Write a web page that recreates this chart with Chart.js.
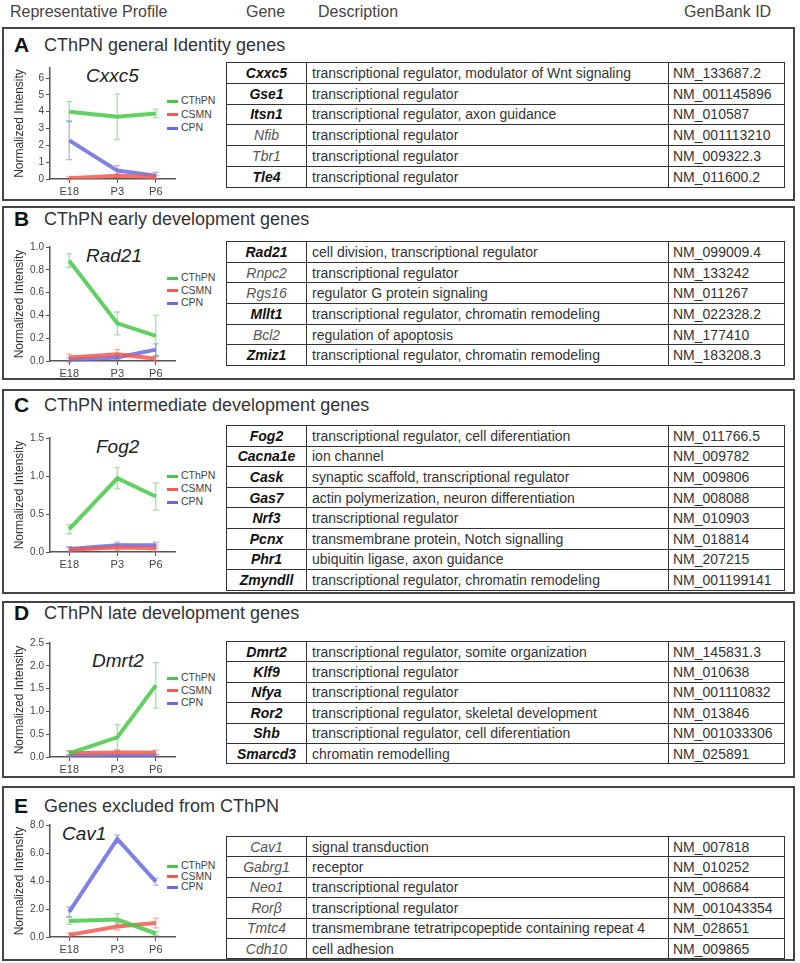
<!DOCTYPE html>
<html>
<head>
<meta charset="utf-8">
<script src="https://cdn.jsdelivr.net/npm/chart.js@4/dist/chart.umd.min.js"></script>
<style>
body { margin: 0; width: 800px; height: 963px; position: relative; overflow: hidden; background: #fff;
       font-family: Arial, "Liberation Sans", sans-serif; color: #333; }
.hdr { position: absolute; top: 3px; font-size: 16px; color: #444; }
.panel { position: absolute; left: 2px; width: 793px; border: 2px solid #444; box-sizing: border-box; }
.letter { position: absolute; font-weight: bold; font-size: 21px; color: #111; }
.ptitle { position: absolute; font-size: 18px; color: #333; }
.gname { position: absolute; font-style: italic; font-size: 19px; color: #222; }
.leg { position: absolute; font-size: 10.5px; color: #444; white-space: nowrap; }
.leg span { display: inline-block; width: 11px; height: 3px; margin-right: 3px; vertical-align: middle; }
canvas { position: absolute; left: 0; }
table { position: absolute; border-collapse: collapse; table-layout: fixed; font-size: 14px; }
td { border: 1.5px solid #333; padding: 0 5px; white-space: nowrap; overflow: hidden; color: #333; }
td.g { text-align: center; font-style: italic; color: #555; }
td.b { font-weight: bold; color: #111; }
td.id { padding-left: 4px; }
</style>
</head>
<body>
<div class="hdr" style="left:10px">Representative Profile</div>
<div class="hdr" style="left:246px">Gene</div>
<div class="hdr" style="left:318px">Description</div>
<div class="hdr" style="left:684px">GenBank ID</div>

<script>
const stages = ['E18', 'P3', 'P6'];
const stageDay = [0, 5, 9];
const seriesNames = ['CThPN', 'CSMN', 'CPN'];
const seriesColors = ['#46c846', '#f05a50', '#6a6ae0'];

// mean and error per series: CThPN, CSMN, CPN
const cxxc5Mean = [[4.0, 3.7, 3.9], [0.05, 0.2, 0.12], [2.3, 0.5, 0.2]];
const cxxc5Err = [[0.6, 1.35, 0.25], [0.1, 0.1, 0.1], [1.15, 0.3, 0.2]];
const cxxc5Ticks = [0, 1, 2, 3, 4, 5, 6];

const rad21Mean = [[0.88, 0.33, 0.22], [0.03, 0.06, 0.02], [0.01, 0.03, 0.1]];
const rad21Err = [[0.06, 0.1, 0.18], [0.03, 0.04, 0.02], [0.02, 0.02, 0.05]];
const rad21Ticks = [0, 0.2, 0.4, 0.6, 0.8, 1.0];

const fog2Mean = [[0.3, 0.97, 0.73], [0.03, 0.06, 0.05], [0.04, 0.09, 0.09]];
const fog2Err = [[0.06, 0.14, 0.18], [0.03, 0.04, 0.04], [0.03, 0.04, 0.04]];
const fog2Ticks = [0, 0.5, 1.0, 1.5];

const dmrt2Mean = [[0.08, 0.43, 1.57], [0.08, 0.1, 0.1], [0.03, 0.03, 0.03]];
const dmrt2Err = [[0.06, 0.28, 0.5], [0.05, 0.05, 0.05], [0.02, 0.02, 0.02]];
const dmrt2Ticks = [0, 0.5, 1.0, 1.5, 2.0, 2.5];

const cav1Mean = [[1.15, 1.25, 0.25], [0.15, 0.75, 1.0], [1.8, 7.0, 3.95]];
const cav1Err = [[0.25, 0.4, 0.15], [0.15, 0.25, 0.35], [0.35, 0.3, 0.25]];
const cav1Ticks = [0, 2, 4, 6, 8];

const genesA = ['Cxxc5', 'Gse1', 'Itsn1', 'Nfib', 'Tbr1', 'Tle4'];
const descA = ['transcriptional regulator, modulator of Wnt signaling', 'transcriptional regulator',
    'transcriptional regulator, axon guidance', 'transcriptional regulator', 'transcriptional regulator',
    'transcriptional regulator'];
const idsA = ['NM_133687.2', 'NM_001145896', 'NM_010587', 'NM_001113210', 'NM_009322.3', 'NM_011600.2'];
const boldA = [1, 1, 1, 0, 0, 1];

const genesB = ['Rad21', 'Rnpc2', 'Rgs16', 'Mllt1', 'Bcl2', 'Zmiz1'];
const descB = ['cell division, transcriptional regulator', 'transcriptional regulator',
    'regulator G protein signaling', 'transcriptional regulator, chromatin remodeling',
    'regulation of apoptosis', 'transcriptional regulator, chromatin remodeling'];
const idsB = ['NM_099009.4', 'NM_133242', 'NM_011267', 'NM_022328.2', 'NM_177410', 'NM_183208.3'];
const boldB = [1, 0, 0, 1, 0, 1];

const genesC = ['Fog2', 'Cacna1e', 'Cask', 'Gas7', 'Nrf3', 'Pcnx', 'Phr1', 'Zmyndll'];
const descC = ['transcriptional regulator, cell diferentiation', 'ion channel',
    'synaptic scaffold, transcriptional regulator', 'actin polymerization, neuron differentiation',
    'transcriptional regulator', 'transmembrane protein, Notch signalling', 'ubiquitin ligase, axon guidance',
    'transcriptional regulator, chromatin remodeling'];
const idsC = ['NM_011766.5', 'NM_009782', 'NM_009806', 'NM_008088', 'NM_010903', 'NM_018814', 'NM_207215', 'NM_001199141'];
const boldC = [1, 1, 1, 1, 1, 1, 1, 1];

const genesD = ['Dmrt2', 'Klf9', 'Nfya', 'Ror2', 'Shb', 'Smarcd3'];
const descD = ['transcriptional regulator, somite organization', 'transcriptional regulator',
    'transcriptional regulator', 'transcriptional regulator, skeletal development',
    'transcriptional regulator, cell diferentiation', 'chromatin remodelling'];
const idsD = ['NM_145831.3', 'NM_010638', 'NM_001110832', 'NM_013846', 'NM_001033306', 'NM_025891'];
const boldD = [1, 1, 1, 1, 1, 1];

const genesE = ['Cav1', 'Gabrg1', 'Neo1', 'Rorβ', 'Tmtc4', 'Cdh10'];
const descE = ['signal transduction', 'receptor', 'transcriptional regulator', 'transcriptional regulator',
    'transmembrane tetratripcopeptide containing repeat 4', 'cell adhesion'];
const idsE = ['NM_007818', 'NM_010252', 'NM_008684', 'NM_001043354', 'NM_028651', 'NM_009865'];
const boldE = [0, 0, 0, 0, 0, 0];

// layout of each panel (page coordinates)
const panels = [
    { letter: 'A', title: 'CThPN general Identity genes', top: 27, bottom: 201, titleY: 33,
      gene: 'Cxxc5', mean: cxxc5Mean, err: cxxc5Err, ticks: cxxc5Ticks, yMax: 6.6, dec: 0,
      plotTop: 68, plotBottom: 179, geneX: 86, geneY: 65, legY: 100, legGap: 13.5,
      tableTop: 62, rowH: 20.8, genes: genesA, desc: descA, ids: idsA, bold: boldA },
    { letter: 'B', title: 'CThPN early development genes', top: 206, bottom: 380, titleY: 207,
      gene: 'Rad21', mean: rad21Mean, err: rad21Err, ticks: rad21Ticks, yMax: 1.0, dec: 1,
      plotTop: 247, plotBottom: 361, geneX: 86, geneY: 245, legY: 277, legGap: 12.5,
      tableTop: 241, rowH: 20.7, genes: genesB, desc: descB, ids: idsB, bold: boldB },
    { letter: 'C', title: 'CThPN intermediate development genes', top: 389, bottom: 594, titleY: 393,
      gene: 'Fog2', mean: fog2Mean, err: fog2Err, ticks: fog2Ticks, yMax: 1.5, dec: 1,
      plotTop: 438, plotBottom: 552, geneX: 96, geneY: 436, legY: 475, legGap: 13,
      tableTop: 425, rowH: 20.6, genes: genesC, desc: descC, ids: idsC, bold: boldC },
    { letter: 'D', title: 'CThPN late development genes', top: 601, bottom: 778, titleY: 601,
      gene: 'Dmrt2', mean: dmrt2Mean, err: dmrt2Err, ticks: dmrt2Ticks, yMax: 2.5, dec: 1,
      plotTop: 643, plotBottom: 757, geneX: 92, geneY: 650, legY: 677, legGap: 12.5,
      tableTop: 641, rowH: 20.4, genes: genesD, desc: descD, ids: idsD, bold: boldD },
    { letter: 'E', title: 'Genes excluded from CThPN', top: 786, bottom: 961, titleY: 794,
      gene: 'Cav1', mean: cav1Mean, err: cav1Err, ticks: cav1Ticks, yMax: 8.0, dec: 1,
      plotTop: 825, plotBottom: 937, geneX: 62, geneY: 823, legY: 865, legGap: 10.5,
      tableTop: 836, rowH: 20.4, genes: genesE, desc: descE, ids: idsE, bold: boldE },
];

const errorBars = {
    id: 'errorBars',
    beforeDatasetsDraw(chart) {
        const ctx = chart.ctx
        const ys = chart.scales.y
        chart.data.datasets.forEach((ds, i) => {
            const meta = chart.getDatasetMeta(i)
            ctx.save()
            ctx.strokeStyle = ds.errColor
            ctx.lineWidth = 1.3
            meta.data.forEach((pt, j) => {
                const v = ds.data[j].y
                const e = ds.err[j]
                const y1 = ys.getPixelForValue(v + e)
                const y2 = ys.getPixelForValue(v - e)
                ctx.beginPath()
                ctx.moveTo(pt.x, y1); ctx.lineTo(pt.x, y2)
                ctx.moveTo(pt.x - 3, y1); ctx.lineTo(pt.x + 3, y1)
                ctx.moveTo(pt.x - 3, y2); ctx.lineTo(pt.x + 3, y2)
                ctx.stroke()
            })
            ctx.restore()
        })
    }
}

const withAlpha = (hex, a) => {
    const n = parseInt(hex.slice(1), 16)
    return 'rgba(' + (n >> 16) + ',' + ((n >> 8) & 255) + ',' + (n & 255) + ',' + a + ')'
}

const addDiv = (cls, text, style) => {
    const d = document.createElement('div')
    d.className = cls
    d.textContent = text
    d.style.cssText = style
    document.body.appendChild(d)
    return d
}

Chart.defaults.font.family = 'Arial, "Liberation Sans", sans-serif'
Chart.defaults.color = '#444'

panels.forEach(p => {
    addDiv('panel', '', 'top:' + p.top + 'px;height:' + (p.bottom - p.top) + 'px')
    addDiv('letter', p.letter, 'left:14px;top:' + p.titleY + 'px')
    addDiv('ptitle', p.title, 'left:44px;top:' + (p.titleY + 2) + 'px')
    addDiv('gname', p.gene, 'left:' + p.geneX + 'px;top:' + p.geneY + 'px')

    // legend
    seriesNames.forEach((name, k) => {
        const d = addDiv('leg', name, 'left:167px;top:' + (p.legY + k * p.legGap - 6) + 'px')
        const sw = document.createElement('span')
        sw.style.background = seriesColors[k]
        d.prepend(sw)
    })

    // table
    const tb = document.createElement('table')
    tb.style.cssText = 'left:226px;top:' + p.tableTop + 'px;width:558px'
    let html = '<colgroup><col style="width:80px"><col style="width:362px"><col style="width:116px"></colgroup>'
    p.genes.forEach((g, r) => {
        html += '<tr style="height:' + p.rowH + 'px"><td class="g' + (p.bold[r] ? ' b' : '') + '">' + g +
            '</td><td>' + p.desc[r] + '</td><td class="id">' + p.ids[r] + '</td></tr>'
    })
    tb.innerHTML = html
    document.body.appendChild(tb)

    // chart
    const cv = document.createElement('canvas')
    const ctop = p.plotTop - 18
    const ch = p.plotBottom - p.plotTop + 18 + 19
    cv.width = 222; cv.height = ch
    cv.style.top = ctop + 'px'
    cv.style.width = '222px'; cv.style.height = ch + 'px'
    document.body.appendChild(cv)

    const datasets = seriesNames.map((name, k) => ({
        label: name,
        data: stageDay.map((d, j) => ({ x: d, y: p.mean[k][j] })),
        err: p.err[k],
        borderColor: withAlpha(seriesColors[k], 0.85),
        errColor: withAlpha(seriesColors[k], 0.5),
        borderWidth: 4,
        pointRadius: 0,
        tension: 0,
    }))

    new Chart(cv, {
        type: 'line',
        data: { datasets: datasets },
        plugins: [errorBars],
        options: {
            responsive: false,
            animation: false,
            devicePixelRatio: 1,
            layout: { padding: { left: 12, right: 47, top: 18, bottom: 1 } },
            plugins: { legend: { display: false }, tooltip: { enabled: false } },
            scales: {
                x: {
                    type: 'linear', min: -2, max: 11,
                    afterBuildTicks: (s) => { s.ticks = stageDay.map(v => ({ value: v })) },
                    afterFit: (s) => { s.height = 18 },
                    ticks: { callback: (v) => stages[stageDay.indexOf(v)], font: { size: 11 }, padding: 2,
                             maxRotation: 0, autoSkip: false },
                    grid: { drawOnChartArea: false, drawTicks: true, tickLength: 4, color: '#555' },
                    border: { color: '#555', width: 1.5 },
                },
                y: {
                    type: 'linear', min: 0, max: p.yMax,
                    afterBuildTicks: (s) => { s.ticks = p.ticks.map(v => ({ value: v })) },
                    afterFit: (s) => { s.width = 38 },
                    ticks: { callback: (v) => v.toFixed(p.dec), font: { size: 10 }, padding: 2 },
                    grid: { drawOnChartArea: false, drawTicks: true, tickLength: 4, color: '#555' },
                    border: { color: '#555', width: 1.5 },
                    title: { display: true, text: 'Normalized Intensity', font: { size: 12 }, color: '#333',
                             padding: 0 },
                },
            },
        },
    })
})
</script>
</body>
</html>
